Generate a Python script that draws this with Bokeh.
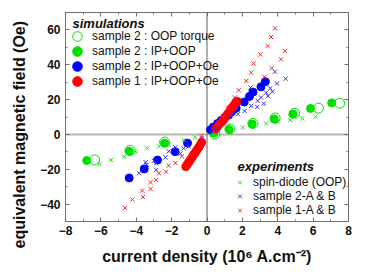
from bokeh.plotting import figure
from bokeh.models import (Range1d, LinearAxis, FixedTicker, Span, Legend, LegendItem,
                          Label, Title, CustomLabelingPolicy)
from bokeh.embed import file_html
from bokeh.resources import INLINE

# ---------------- data ----------------
# simulations, sample 2 : OOP torque (open green circles)
oop_x = [-6.35, -4.35, -2.4, 0.45, 1.3, 2.6, 3.85, 4.95, 6.3, 7.5]
oop_y = [-14.6, -9.2, -4.4, 0.2, 3.1, 6.3, 9.4, 12.2, 15.1, 17.9]

# simulations, sample 2 : IP+OOP (filled green)
ipoop_x = [-6.8, -4.4, -2.4, 0.4, 1.25, 2.55, 3.8, 4.85, 5.85, 7.05]
ipoop_y = [-15.0, -9.7, -5.0, 0.8, 2.8, 6.0, 8.9, 11.7, 14.9, 18.1]

# simulations, sample 2 : IP+OOP+Oe (filled blue)
s2_x = [-4.4, -3.55, -2.8, -1.8, -1.1, 0.2, 0.35, 0.6, 0.8, 1.0, 1.2, 1.4,
        1.65, 2.1, 2.4, 2.6, 3.05, 3.3]
s2_y = [-25.0, -19.8, -14.7, -9.9, -5.0, 2.7, 4.2, 6.3, 8.0, 9.7, 11.0, 13.0,
        15.0, 18.6, 21.8, 24.3, 27.3, 30.3]

# simulations, sample 1 : IP+OOP+Oe (filled red)
s1_x = [-1.2, -1.12, -1.05, -0.98, -0.9, -0.82, -0.75, -0.68, -0.6, -0.52,
        -0.45, -0.38, -0.3, 0.5, 0.6, 0.72, 0.85, 0.95, 1.05, 1.15, 1.25,
        1.33, 1.42, 1.52, 1.62, 1.7]
s1_y = [-18.5, -17.3, -16.2, -15.2, -14.0, -12.8, -11.6, -10.6, -9.4, -8.2,
        -7.2, -6.0, -4.5, 3.3, 4.6, 6.2, 7.2, 8.5, 10.0, 11.6, 12.8, 14.3,
        15.5, 16.8, 18.2, 19.0]

# experiments, spin-diode (OOP) (green crosses)
sd_x = [-6.08, -5.43, -4.68, -4.03, -3.38, -2.72, -2.16, -1.32, -0.67, 0.3,
        2.03, 3.34, 3.99, 4.7, 5.39, 6.14]
sd_y = [-17.0, -14.7, -12.8, -9.9, -8.0, -6.9, -5.9, -3.2, -1.7, 0.5,
        4.0, 6.3, 7.3, 8.2, 9.2, 10.1]

# experiments, sample 2-A & B (blue crosses)
e2_x = [4.45, 3.84, 3.96, 3.58, 3.34, 3.06, 2.87, 2.5, 2.46, 2.13, 1.75, 1.38,
        1.0, 0.63, 0.45, 3.21, 2.84, 3.7, 3.45, -0.3, -1.04, -1.32, -1.79,
        -2.16, -2.35, -2.87, -3.0, -2.87, -3.47, -3.41, -3.84, -1.5]
e2_y = [32.0, 36.0, 29.2, 26.5, 24.0, 21.2, 19.3, 16.4, 26.9, 13.5, 11.6, 10.7,
        9.7, 5.9, 3.1, 17.7, 15.8, 24.5, 22.0, -2.0, -6.9, -8.0, -7.4,
        -9.7, -13.2, -16.6, -15.1, -20.4, -16.0, -17.4, -22.3, -11.0]

# experiments, sample 1-A & B (red crosses)
e1_x = [3.85, 3.62, 3.43, 3.02, 4.4, 4.18, 2.63, 2.5, 3.66, 3.25, 2.22, 1.79,
        1.57, 1.2, 0.9, 0.6, -0.3, -0.9, -1.42, -1.79, -2.16, -2.31, -2.72,
        -2.87, -3.19, -3.19, -3.66, -3.62, -4.22, -4.63]
e1_y = [60.9, 55.9, 50.8, 46.0, 47.9, 43.1, 40.8, 35.5, 38.0, 33.0, 30.7, 25.4,
        21.2, 15.0, 10.0, 6.0, -0.8, -11.6, -12.6, -16.4, -17.9, -21.4, -22.3,
        -26.1, -27.5, -31.3, -32.3, -36.0, -37.4, -42.2]

x_ticks = [-8, -6, -4, -2, 0, 2, 4, 6, 8]
x_minor = [-7, -5, -3, -1, 1, 3, 5, 7]
y_ticks = [-40, -20, 0, 20, 40, 60]
y_minor = [-50, -30, -10, 10, 30, 50, 70]

x_label = "current density (10\u2076 A.cm\u207b\u00b2)"
y_label = "equivalent magnetic field (Oe)"

# ---------------- figure ----------------
FONT = "Liberation Sans"
FRAME = "#707070"
TXT = "#111111"

p = figure(width=374, height=275, output_backend="svg", toolbar_location=None,
           x_range=Range1d(-8, 8), y_range=Range1d(-50, 70),
           min_border_left=62, min_border_right=26, min_border_top=12,
           min_border_bottom=54)
p.grid.visible = False
p.outline_line_color = FRAME
p.background_fill_color = "white"

for ax in (p.xaxis[0], p.yaxis[0]):
    ax.major_label_text_font = FONT
    ax.major_label_text_font_style = "bold"
    ax.major_label_text_font_size = "12px"
    ax.major_label_text_color = TXT
    ax.axis_label_text_font = FONT
    ax.axis_label_text_font_style = "bold"
    ax.axis_label_text_font_size = "16px"
    ax.axis_label_text_color = TXT
    ax.axis_line_color = FRAME
    ax.major_tick_line_color = FRAME
    ax.minor_tick_line_color = FRAME
    ax.major_tick_in = 4
    ax.major_tick_out = 0
    ax.minor_tick_in = 2
    ax.minor_tick_out = 0

p.xaxis[0].ticker = FixedTicker(ticks=x_ticks, minor_ticks=x_minor)
p.yaxis[0].ticker = FixedTicker(ticks=y_ticks, minor_ticks=y_minor)
p.xaxis[0].major_label_standoff = 4
p.yaxis[0].major_label_standoff = 5
p.xaxis[0].axis_label = x_label
p.xaxis[0].axis_label_standoff = 10

# y title: sits lower than the frame centre in the original
p.add_layout(Title(text=y_label, align="left", offset=-27, vertical_align="middle",
                   standoff=18, text_font=FONT, text_font_style="bold",
                   text_font_size="16px", text_color=TXT), "left")

hide_all = CustomLabelingPolicy(code="""
try { for (const i of [...indices]) indices.unset(i) } catch (e) {}
return indices
""")
for loc, tk, mn in (("above", x_ticks, x_minor), ("right", y_ticks, y_minor)):
    ax = LinearAxis(ticker=FixedTicker(ticks=tk, minor_ticks=mn),
                    major_label_policy=hide_all,
                    major_label_text_font_size="1px", major_label_standoff=0,
                    axis_line_color=FRAME, major_tick_line_color=FRAME,
                    minor_tick_line_color=FRAME, major_tick_in=4, major_tick_out=0,
                    minor_tick_in=2, minor_tick_out=0)
    p.add_layout(ax, loc)

p.add_layout(Span(location=0, dimension="width", line_color="#b5b5b5",
                  line_width=2, level="underlay"))
p.add_layout(Span(location=0, dimension="height", line_color="#606060",
                  line_width=1, level="underlay"))

GREEN = "#00e000"
BLUE = "#0000ff"
RED = "#ff0000"

r_oop = p.scatter(oop_x, oop_y, marker="circle", size=10, fill_color=None,
                  line_color=GREEN, line_width=1)
r_ipoop = p.scatter(ipoop_x, ipoop_y, marker="circle", size=8, fill_color=GREEN,
                    line_color=GREEN)
r_s2 = p.scatter(s2_x, s2_y, marker="circle", size=8, fill_color=BLUE,
                 line_color=BLUE)
r_s1 = p.scatter(s1_x, s1_y, marker="circle", size=8, fill_color=RED,
                 line_color=RED)
r_sd = p.scatter(sd_x, sd_y, marker="x", size=6, line_color="#22dd22", line_width=1)
r_e2 = p.scatter(e2_x, e2_y, marker="x", size=6, line_color="#3333ff", line_width=1)
r_e1 = p.scatter(e1_x, e1_y, marker="x", size=6, line_color="#ff2222", line_width=1)

def style_legend(leg):
    leg.background_fill_alpha = 0
    leg.border_line_alpha = 0
    leg.label_text_font = FONT
    leg.label_text_font_size = "12px"
    leg.label_text_color = TXT
    leg.margin = 0
    leg.padding = 0
    leg.spacing = 0

# simulations: one single-row legend per entry so the circles can be large
sim_entries = [("sample 2 : OOP torque", r_oop, 173),
               ("sample 2 : IP+OOP", r_ipoop, 158),
               ("sample 2 : IP+OOP+Oe", r_s2, 143),
               ("sample 1 : IP+OOP+Oe", r_s1, 128)]
for lab, rend, ypos in sim_entries:
    leg = Legend(items=[LegendItem(label=lab, renderers=[rend])], location=(0, ypos))
    style_legend(leg)
    leg.glyph_width = 24
    leg.glyph_height = 24
    leg.label_height = 15
    leg.label_standoff = 3
    p.add_layout(leg)

exp = Legend(items=[LegendItem(label="spin-diode (OOP)", renderers=[r_sd]),
                    LegendItem(label="sample 2-A & B", renderers=[r_e2]),
                    LegendItem(label="sample 1-A & B", renderers=[r_e1])],
             location=(168, 4))
style_legend(exp)
exp.glyph_width = 13
exp.glyph_height = 14
exp.label_height = 14
exp.label_standoff = 7
p.add_layout(exp)

# legend headings
p.add_layout(Label(x=7, y=198, x_units="screen", y_units="screen", text="simulations",
                   text_align="left", text_baseline="middle", text_font=FONT,
                   text_font_style="bold italic", text_font_size="13px", text_color=TXT))
p.add_layout(Label(x=172, y=55, x_units="screen", y_units="screen", text="experiments",
                   text_align="left", text_baseline="middle", text_font=FONT,
                   text_font_style="bold italic", text_font_size="13px", text_color=TXT))

open("out.html", "w").write(file_html(p, INLINE))
